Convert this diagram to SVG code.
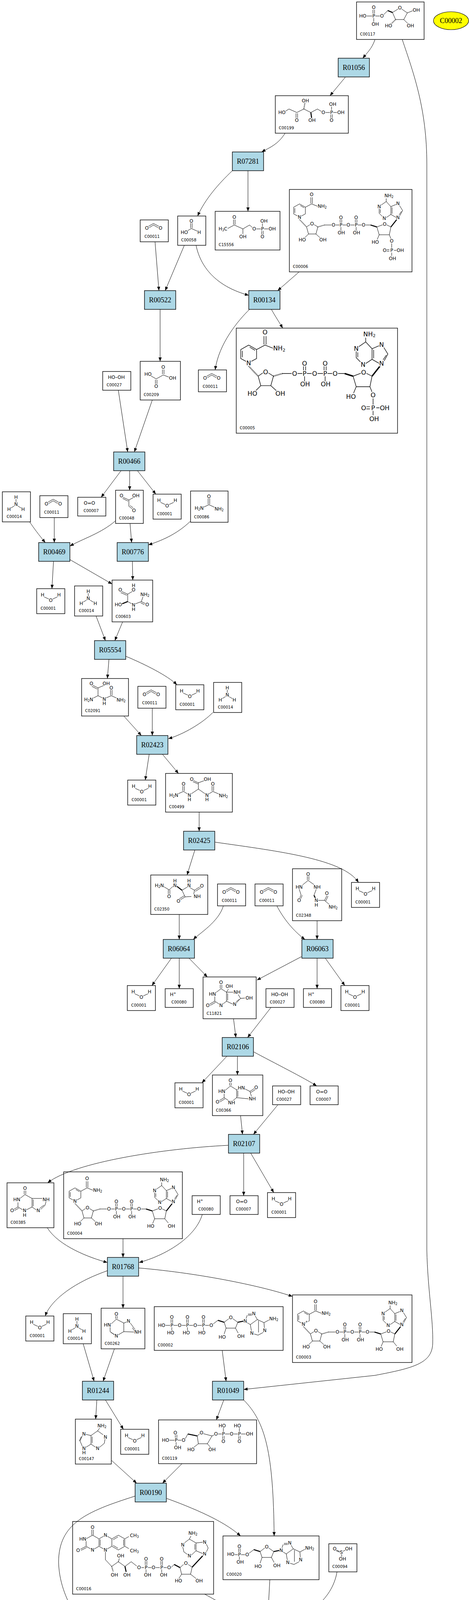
<svg xmlns="http://www.w3.org/2000/svg" width="1201" height="4797" viewBox="0 0 1201 4797">
<style>
.box{fill:#fff;stroke:#000;stroke-width:1.4}
.rx{fill:#add8e6;stroke:#000;stroke-width:1.4}
.rt{font-family:"Liberation Serif","Times New Roman",serif;font-size:18px;text-anchor:middle;dominant-baseline:central}
.lb{font-family:"DejaVu Sans",sans-serif;font-size:10px}
.a{font-family:"DejaVu Sans",sans-serif;font-size:12px;text-anchor:middle;dominant-baseline:central;paint-order:stroke;stroke:#fff;stroke-width:3px;stroke-linejoin:round}
.s{font-size:8px}
.b{fill:none;stroke:#000;stroke-width:1}
.bw{fill:none;stroke:#000;stroke-width:2.6}
.bh{fill:none;stroke:#000;stroke-width:2.6;stroke-dasharray:1 1.4}
.e{fill:none;stroke:#000;stroke-width:1;marker-end:url(#ah)}
</style>
<defs>
<marker id="ah" viewBox="0 0 10 8" refX="10" refY="4" markerWidth="10" markerHeight="8" markerUnits="userSpaceOnUse" orient="auto"><path d="M0,0L10,4L0,8z" fill="#000"/></marker>
<g id="m-w"><rect class="box" width="72" height="64"/><path class="b" d="M19,21L32,27M40,27L53,21"/><text class="a" x="15" y="16">H</text><text class="a" x="36" y="30">O</text><text class="a" x="57" y="16">H</text><text class="lb" x="10" y="54">C00001</text></g>
<g id="m-n"><rect class="box" width="72" height="77"/><path class="b" d="M35,19V27M31,36L21,42M39,36L49,42"/><text class="a" x="35" y="14">H</text><text class="a" x="35" y="32">N</text><text class="a" x="17" y="45">H</text><text class="a" x="53" y="45">H</text><text class="lb" x="11" y="67">C00014</text></g>
<g id="m-c"><rect class="box" width="72" height="56"/><path class="b" d="M20,17L34,9L49,17M23,20L34,13L46,20"/><text class="a" x="17" y="21">O</text><text class="a" x="52" y="21">O</text><text class="lb" x="11" y="46">C00011</text></g>
<g id="m-o2"><rect class="box" width="72" height="48"/><text class="a" x="30" y="15">O=O</text><text class="lb" x="15" y="38">C00007</text></g>
<g id="m-hp"><rect class="box" width="72" height="48"/><text class="a" x="20" y="15">H<tspan class="s" dy="-4">+</tspan></text><text class="lb" x="16" y="38">C00080</text></g>
<g id="m-hh"><rect class="box" width="72" height="48"/><text class="a" x="35" y="15">HO–OH</text><text class="lb" x="10" y="38">C00027</text></g>
<g id="nad">
<path class="b" d="M28,41L43,49.5L43,66.5L33,72M23,72L13,66.5L13,49.5L28,41M16,52V64M30,45L40,51M43,49.5L59,41M57,40V24M61,40V24M59,41L74,47M56,93L46,100L51,118L70,118L75,100L64,93M51,118L41,128M70,118L81,128M92,95H110M119,95H130M138,95H149M157,95H169M177,95H188M132,90V81M136,90V81M171,90V81M175,90V81M134,100V110M173,100V110M196,95H210M242,94L226,100L232,120L258,120L262,100L250,94M232,120L227,132M250,35L237,44M232,53V65L240,73M250,76L262,68V48L250,35M250,35V27M262,48L276,42M284,45L292,58L285,71M276,76L262,68M235,55V64M265,50V66M289,60L283,69"/>
<path class="bh" d="M28,81L46,100M75,100L92,95"/>
<path class="bw" d="M210,95L226,100M262,100L277,81"/>
<text class="a" x="59" y="17">O</text><text class="a" x="86" y="47">NH<tspan class="s" dy="3">2</tspan></text><text class="a" x="28" y="75">N</text><text class="a" x="60" y="92">O</text><text class="a" x="35" y="133">HO</text><text class="a" x="88" y="133">OH</text><text class="a" x="115" y="95">O</text><text class="a" x="134" y="95">P</text><text class="a" x="153" y="95">O</text><text class="a" x="173" y="95">P</text><text class="a" x="192" y="95">O</text><text class="a" x="134" y="76">O</text><text class="a" x="173" y="76">O</text><text class="a" x="135" y="115">OH</text><text class="a" x="174" y="115">OH</text><text class="a" x="246" y="93">O</text><text class="a" x="222" y="139">HO</text><text class="a" x="257" y="20">NH<tspan class="s" dy="3">2</tspan></text><text class="a" x="232" y="48">N</text><text class="a" x="245" y="78">N</text><text class="a" x="280" y="40">N</text><text class="a" x="280" y="76">N</text>
</g>
<g id="oh2"><path class="b" d="M258,120L267,131"/><text class="a" x="275" y="139">OH</text></g>
<g id="p2"><path class="b" d="M258,120L262,130M264,142V154M251,158H258M251,162H258M270,160H277M264,166V174"/><text class="a" x="264" y="136">O</text><text class="a" x="264" y="160">P</text><text class="a" x="246" y="160">O</text><text class="a" x="286" y="160">OH</text><text class="a" x="266" y="181">OH</text></g>
<g id="ado">
<path class="b" d="M109,48H122M124,43V32M128,43V32M126,53V61M130,48H142M150,45L163,35M192,30L179,40L184,55L208,55L214,40L200,30M184,55L179,70M208,55L215,68M235,31L238,22M240,19H250M240,22H250M258,23L264,33L246,46L238,41M264,33L281,41L282,55M279,66L266,73L256,70M249,63L246,46M281,41L294,34M267,36V66"/>
<path class="bw" d="M163,35L179,40M214,40L229,37"/>
<text class="a" x="126" y="27">O</text><text class="a" x="126" y="48">P</text><text class="a" x="146" y="48">O</text><text class="a" x="196" y="28">O</text><text class="a" x="174" y="78">HO</text><text class="a" x="222" y="76">OH</text><text class="a" x="233" y="37">N</text><text class="a" x="255" y="18">N</text><text class="a" x="306" y="31">NH<tspan class="s" dy="3">2</tspan></text><text class="a" x="250" y="68">N</text><text class="a" x="283" y="61">N</text>
</g>
<g id="atp"><use href="#ado"/>
<path class="b" d="M43,43V32M47,43V32M83,43V32M87,43V32M27,48H41M49,48H61M69,48H81M89,48H101M45,53V61M85,53V61"/>
<text class="a" x="45" y="27">O</text><text class="a" x="85" y="27">O</text><text class="a" x="19" y="48">HO</text><text class="a" x="45" y="48">P</text><text class="a" x="65" y="48">O</text><text class="a" x="85" y="48">P</text><text class="a" x="105" y="48">O</text><text class="a" x="42" y="67">HO</text><text class="a" x="82" y="67">HO</text><text class="a" x="122" y="67">HO</text>
</g>
</defs>

<g id="nodes">
<g id="C00117" transform="translate(913,5)">
<rect class="box" width="173" height="96"/>
<path class="b" d="M42,20V31M46,20V31M24,36H40M48,36H61M44,41V51M69,33L80,22M108,17L92,27L100,45L121,45L130,28L114,17M130,28L145,22M121,45L132,56"/>
<path class="bw" d="M80,22L92,27"/><path class="bh" d="M100,45L89,56"/>
<text class="a" x="44" y="14">O</text><text class="a" x="16" y="36">HO</text><text class="a" x="44" y="36">P</text><text class="a" x="65" y="36">O</text><text class="a" x="48" y="57">OH</text><text class="a" x="111" y="15">O</text><text class="a" x="153" y="21">OH</text><text class="a" x="82" y="61">HO</text><text class="a" x="138" y="61">OH</text>
<text class="lb" x="9" y="86">C00117</text>
</g>
<g id="C00002_cofactor"><ellipse cx="1155" cy="53" rx="45" ry="23" fill="#ffff00" stroke="#000" stroke-width="1.2"/><text class="rt" x="1155" y="53">C00002</text></g>
<g id="R01056"><rect class="rx" x="866" y="149" width="80" height="48"/><text class="rt" x="906" y="173">R01056</text></g>
<g id="C00199" transform="translate(705,245)">
<rect class="box" width="187" height="96"/>
<path class="b" d="M24,41L35,34L55,43L73,34L91,43L108,34L119,41M53,45V58M57,45V58M127,43H140M148,43H159M144,38V28M142,48V58M146,48V58"/>
<path class="bh" d="M73,34L76,18"/><path class="bw" d="M91,43L93,57"/>
<text class="a" x="77" y="13">OH</text><text class="a" x="147" y="22">OH</text><text class="a" x="17" y="43">HO</text><text class="a" x="123" y="43">O</text><text class="a" x="144" y="43">P</text><text class="a" x="168" y="43">OH</text><text class="a" x="55" y="63">O</text><text class="a" x="94" y="63">OH</text><text class="a" x="144" y="63">O</text>
<text class="lb" x="9" y="86">C00199</text>
</g>
<g id="R07281"><rect class="rx" x="595" y="389" width="80" height="48"/><text class="rt" x="635" y="413">R07281</text></g>
<g id="C00011_1"><use href="#m-c" x="359" y="563"/></g>
<g id="C00058" transform="translate(455,553)">
<rect class="box" width="72" height="75"/>
<path class="b" d="M33,18V31M37,18V31M35,32L23,39M35,32L51,39"/>
<text class="a" x="35" y="13">O</text><text class="a" x="17" y="42">HO</text><text class="a" x="55" y="42">H</text>
<text class="lb" x="9" y="65">C00058</text>
</g>
<g id="C15556" transform="translate(551,541)">
<rect class="box" width="166" height="99"/>
<path class="b" d="M32,44L49,35L71,45L88,35L96,42M47,34V21M51,34V21M71,45V58M104,45H117M125,45H136M121,40V31M119,50V59M123,50V59"/>
<text class="a" x="49" y="15">O</text><text class="a" x="125" y="25">OH</text><text class="a" x="20" y="45">H<tspan class="s" dy="3">3</tspan><tspan dy="-3">C</tspan></text><text class="a" x="100" y="45">O</text><text class="a" x="121" y="45">P</text><text class="a" x="146" y="45">OH</text><text class="a" x="71" y="65">OH</text><text class="a" x="121" y="65">O</text>
<text class="lb" x="9" y="89">C15556</text>
</g>
<g id="C00006">
<rect class="box" x="741" y="485" width="314" height="211"/>
<g transform="translate(739,481)"><use href="#nad"/><use href="#p2"/></g>
<text class="lb" x="750" y="686">C00006</text>
</g>
<g id="R00522"><rect class="rx" x="370" y="744" width="80" height="48"/><text class="rt" x="410" y="768">R00522</text></g>
<g id="R00134"><rect class="rx" x="637" y="744" width="80" height="48"/><text class="rt" x="677" y="768">R00134</text></g>
<g id="C00209" transform="translate(359,925)">
<rect class="box" width="103" height="99"/>
<path class="b" d="M27,37L41,45L59,35L75,41M57,33V21M61,33V21M39,47V58M43,47V58"/>
<text class="a" x="59" y="15">O</text><text class="a" x="20" y="33">HO</text><text class="a" x="83" y="43">OH</text><text class="a" x="41" y="64">O</text>
<text class="lb" x="9" y="89">C00209</text>
</g>
<g id="C00027_1"><use href="#m-hh" x="263" y="951"/></g>
<g id="C00011_2"><use href="#m-c" x="508" y="947"/></g>
<g id="C00005">
<rect class="box" x="605" y="840" width="413" height="269"/>
<g transform="translate(599,828) scale(1.35)"><use href="#nad"/><use href="#p2"/></g>
<text class="lb" x="614" y="1099">C00005</text>
</g>
<g id="R00466"><rect class="rx" x="291" y="1157" width="80" height="48"/><text class="rt" x="331" y="1181">R00466</text></g>
<g id="C00014_1"><use href="#m-n" x="6" y="1259"/></g>
<g id="C00011_3"><use href="#m-c" x="102" y="1269"/></g>
<g id="C00007_1"><use href="#m-o2" x="199" y="1273"/></g>
<g id="C00048" transform="translate(296,1255)">
<rect class="box" width="71" height="85"/>
<path class="b" d="M19,18L34,25M18,21L32,28M47,18L34,25M34,25V41M34,41L43,48M37,39L45,45"/>
<text class="a" x="15" y="14">O</text><text class="a" x="52" y="14">OH</text><text class="a" x="47" y="52">O</text>
<text class="lb" x="9" y="75">C00048</text>
</g>
<g id="C00001_1"><use href="#m-w" x="392" y="1265"/></g>
<g id="C00086" transform="translate(488,1257)">
<rect class="box" width="96" height="80"/>
<path class="b" d="M45,19V34M49,19V34M47,35L32,42M47,35L62,42"/>
<text class="a" x="47" y="14">O</text><text class="a" x="22" y="44">H<tspan class="s" dy="3">2</tspan><tspan dy="-3">N</tspan></text><text class="a" x="73" y="46">NH<tspan class="s" dy="3">2</tspan></text>
<text class="lb" x="9" y="70">C00086</text>
</g>
<g id="R00469"><rect class="rx" x="99" y="1389" width="80" height="48"/><text class="rt" x="139" y="1413">R00469</text></g>
<g id="R00776"><rect class="rx" x="300" y="1389" width="80" height="48"/><text class="rt" x="340" y="1413">R00776</text></g>
<g id="C00001_2"><use href="#m-w" x="94" y="1507"/></g>
<g id="C00014_2"><use href="#m-n" x="191" y="1500"/></g>
<g id="C00603" transform="translate(287,1485)">
<rect class="box" width="104" height="107"/>
<path class="b" d="M24,29L40,36M22,32L38,39M52,29L40,36M40,36V55M40,55L51,61M59,61L75,55L79,43M75,55L85,60M73,58L83,63"/>
<path class="bw" d="M40,55L25,61"/>
<text class="a" x="55" y="14">H</text><text class="a" x="21" y="25">O</text><text class="a" x="55" y="25">O</text><text class="a" x="84" y="37">NH<tspan class="s" dy="3">2</tspan></text><text class="a" x="16" y="63">HO</text><text class="a" x="55" y="64">N</text><text class="a" x="55" y="75">H</text><text class="a" x="90" y="63">O</text>
<text class="lb" x="9" y="97">C00603</text>
</g>
<g id="R05554"><rect class="rx" x="242" y="1640" width="80" height="48"/><text class="rt" x="282" y="1664">R05554</text></g>
<g id="C02091" transform="translate(209,1737)">
<rect class="box" width="120" height="96"/>
<path class="b" d="M28,17L42,24M26,20L40,27M59,17L42,24M42,24V44M42,44L28,51M42,44L54,50M62,50L76,44L92,51M74,43V29M78,43V29"/>
<text class="a" x="25" y="13">O</text><text class="a" x="63" y="13">OH</text><text class="a" x="76" y="24">O</text><text class="a" x="18" y="54">H<tspan class="s" dy="3">2</tspan><tspan dy="-3">N</tspan></text><text class="a" x="58" y="53">N</text><text class="a" x="58" y="64">H</text><text class="a" x="101" y="55">NH<tspan class="s" dy="3">2</tspan></text>
<text class="lb" x="9" y="86">C02091</text>
</g>
<g id="C00011_4"><use href="#m-c" x="353" y="1757"/></g>
<g id="C00001_3"><use href="#m-w" x="450" y="1753"/></g>
<g id="C00014_3"><use href="#m-n" x="547" y="1747"/></g>
<g id="R02423"><rect class="rx" x="350" y="1883" width="80" height="48"/><text class="rt" x="390" y="1907">R02423</text></g>
<g id="C00001_4"><use href="#m-w" x="327" y="1997"/></g>
<g id="C00499" transform="translate(424,1980)">
<rect class="box" width="171" height="99"/>
<path class="b" d="M71,18L84,24M70,21L83,27M100,18L84,24M84,24V40M84,40L66,52M84,40L101,52M57,53L46,46L30,53M44,45V32M48,45V32M110,53L121,46L137,53M119,45V32M123,45V32"/>
<text class="a" x="67" y="15">O</text><text class="a" x="107" y="15">OH</text><text class="a" x="46" y="27">O</text><text class="a" x="121" y="27">O</text><text class="a" x="21" y="56">H<tspan class="s" dy="3">2</tspan><tspan dy="-3">N</tspan></text><text class="a" x="61" y="56">N</text><text class="a" x="61" y="67">H</text><text class="a" x="106" y="56">N</text><text class="a" x="106" y="67">H</text><text class="a" x="148" y="57">NH<tspan class="s" dy="3">2</tspan></text>
<text class="lb" x="9" y="89">C00499</text>
</g>
<g id="R02425"><rect class="rx" x="470" y="2128" width="80" height="48"/><text class="rt" x="510" y="2152">R02425</text></g>
<g id="C02350" transform="translate(386,2240)">
<rect class="box" width="146" height="101"/>
<path class="b" d="M98,31L112,39L110,50M104,55L88,56L80,39L95,30M112,39L126,30M114,42L128,33M88,56L75,64M86,53L73,61M57,29L47,38L32,29M45,38V50M49,38V50M62,22V20M98,22V20"/>
<path class="bw" d="M80,39L67,29"/>
<text class="a" x="62" y="15">H</text><text class="a" x="98" y="15">H</text><text class="a" x="22" y="27">H<tspan class="s" dy="3">2</tspan><tspan dy="-3">N</tspan></text><text class="a" x="62" y="27">N</text><text class="a" x="98" y="27">N</text><text class="a" x="131" y="28">O</text><text class="a" x="47" y="55">O</text><text class="a" x="119" y="55">NH</text><text class="a" x="71" y="67">O</text>
<text class="lb" x="9" y="91">C02350</text>
</g>
<g id="C00011_5"><use href="#m-c" x="557" y="2263"/></g>
<g id="C00011_6"><use href="#m-c" x="653" y="2263"/></g>
<g id="C02348" transform="translate(749,2224)">
<rect class="box" width="126" height="133"/>
<path class="b" d="M38,18V29M42,18V29M40,30L25,42M40,30L57,42M17,52L22,67M22,67L18,76M25,68L21,77M61,52L55,68M66,81H82M82,81L88,69M85,83L91,70M82,81L96,93"/>
<path class="bw" d="M55,68L59,76"/>
<text class="a" x="40" y="14">O</text><text class="a" x="17" y="47">HN</text><text class="a" x="63" y="47">NH</text><text class="a" x="88" y="63">O</text><text class="a" x="17" y="81">O</text><text class="a" x="61" y="81">N</text><text class="a" x="61" y="93">H</text><text class="a" x="104" y="98">NH<tspan class="s" dy="3">2</tspan></text>
<text class="lb" x="9" y="123">C02348</text>
</g>
<g id="C00001_5"><use href="#m-w" x="900" y="2259"/></g>
<g id="R06064"><rect class="rx" x="418" y="2405" width="80" height="48"/><text class="rt" x="458" y="2429">R06064</text></g>
<g id="R06063"><rect class="rx" x="773" y="2405" width="80" height="48"/><text class="rt" x="813" y="2429">R06063</text></g>
<g id="C00001_6"><use href="#m-w" x="326" y="2523"/></g>
<g id="C00080_1"><use href="#m-hp" x="423" y="2531"/></g>
<g id="C11821" transform="translate(520,2501)">
<rect class="box" width="136" height="107"/>
<path class="b" d="M46,30L60,39L60,62L50,70M42,70L30,62L30,50M33,40L46,30M44,29V20M48,29V20M30,62L16,70M32,65L18,73M60,39L65,31M60,39L77,39M90,45L96,55L85,67M93,57L83,65M77,70L60,62M96,55L107,54M63,42V60"/>
<text class="a" x="46" y="14">O</text><text class="a" x="67" y="24">OH</text><text class="a" x="87" y="39">NH</text><text class="a" x="24" y="44">HN</text><text class="a" x="118" y="54">OH</text><text class="a" x="12" y="73">O</text><text class="a" x="46" y="73">N</text><text class="a" x="81" y="70">N</text>
<text class="lb" x="9" y="97">C11821</text>
</g>
<g id="C00027_2"><use href="#m-hh" x="681" y="2531"/></g>
<g id="C00080_2"><use href="#m-hp" x="777" y="2531"/></g>
<g id="C00001_7"><use href="#m-w" x="873" y="2523"/></g>
<g id="R02106"><rect class="rx" x="569" y="2656" width="80" height="48"/><text class="rt" x="609" y="2680">R02106</text></g>
<g id="C00001_8"><use href="#m-w" x="448" y="2772"/></g>
<g id="C00366" transform="translate(544,2752)">
<rect class="box" width="129" height="104"/>
<path class="b" d="M46,28L62,38L62,58L52,66M42,66L30,58L30,48M32,40L46,28M44,27V20M48,27V20M30,58L17,66M32,61L19,69M62,38L70,34M80,34L96,42L100,55M92,61L62,58M96,42L108,34M98,45L110,37M65,40V56"/>
<text class="a" x="46" y="14">O</text><text class="a" x="24" y="42">HN</text><text class="a" x="74" y="33">HN</text><text class="a" x="112" y="32">O</text><text class="a" x="102" y="61">NH</text><text class="a" x="13" y="69">O</text><text class="a" x="49" y="71">NH</text>
<text class="lb" x="9" y="94">C00366</text>
</g>
<g id="C00027_3"><use href="#m-hh" x="698" y="2780"/></g>
<g id="C00007_2"><use href="#m-o2" x="794" y="2780"/></g>
<g id="R02107"><rect class="rx" x="585" y="2904" width="80" height="48"/><text class="rt" x="625" y="2928">R02107</text></g>
<g id="C00385" transform="translate(18,3028)">
<rect class="box" width="120" height="115"/>
<path class="b" d="M46,30L64,40L64,62L50,69M40,69L28,62L28,50M32,41L46,30M44,29V20M48,29V20M28,62L17,68M30,65L19,71M64,40L90,40M100,48L97,58L86,68M95,57L84,65M76,70L64,62M67,43V60"/>
<text class="a" x="46" y="14">O</text><text class="a" x="25" y="43">HN</text><text class="a" x="100" y="43">NH</text><text class="a" x="13" y="71">O</text><text class="a" x="45" y="71">N</text><text class="a" x="45" y="83">H</text><text class="a" x="80" y="71">N</text>
<text class="lb" x="9" y="105">C00385</text>
</g>
<g id="C00004">
<rect class="box" x="163" y="3000" width="304" height="171"/>
<g transform="translate(164,3000)"><use href="#nad"/><use href="#oh2"/></g>
<text class="lb" x="172" y="3161">C00004</text>
</g>
<g id="C00080_3"><use href="#m-hp" x="492" y="3061"/></g>
<g id="C00007_3"><use href="#m-o2" x="589" y="3061"/></g>
<g id="C00001_9"><use href="#m-w" x="685" y="3053"/></g>
<g id="R01768"><rect class="rx" x="275" y="3219" width="80" height="48"/><text class="rt" x="315" y="3243">R01768</text></g>
<g id="C00001_10"><use href="#m-w" x="66" y="3369"/></g>
<g id="C00014_4"><use href="#m-n" x="162" y="3363"/></g>
<g id="C00262" transform="translate(259,3349)">
<rect class="box" width="112" height="104"/>
<path class="b" d="M39,28L58,38L58,60L44,68M34,68L23,60L23,48M26,40L39,28M37,27V20M41,27V20M58,38L66,35M74,37L82,48L88,56M80,50L85,58M58,60L84,61M25,62L35,68"/>
<text class="a" x="39" y="15">O</text><text class="a" x="16" y="43">HN</text><text class="a" x="70" y="33">N</text><text class="a" x="94" y="61">NH</text><text class="a" x="39" y="71">N</text>
<text class="lb" x="9" y="94">C00262</text>
</g>
<g id="C00002_1">
<rect class="box" x="395" y="3345" width="330" height="112"/>
<g transform="translate(395,3345)"><use href="#atp"/></g>
<text class="lb" x="404" y="3447">C00002</text>
</g>
<g id="C00003">
<rect class="box" x="749" y="3315" width="306" height="173"/>
<g transform="translate(749,3315)"><use href="#nad"/><use href="#oh2"/><text class="a s" x="36" y="68">+</text></g>
<text class="lb" x="758" y="3478">C00003</text>
</g>
<g id="R01244"><rect class="rx" x="211" y="3536" width="80" height="48"/><text class="rt" x="251" y="3560">R01244</text></g>
<g id="R01049"><rect class="rx" x="544" y="3536" width="80" height="48"/><text class="rt" x="584" y="3560">R01049</text></g>
<g id="C00147" transform="translate(193,3633)">
<rect class="box" width="92" height="115"/>
<path class="b" d="M57,30L71,40M76,51L74,62L62,72M52,72L40,64L40,42L57,30M57,30L62,23M40,42L27,39M18,42L12,56L18,70M27,72L40,64M15,45L10,56M43,45V61"/>
<text class="a" x="68" y="17">NH<tspan class="s" dy="3">2</tspan></text><text class="a" x="22" y="38">N</text><text class="a" x="77" y="46">N</text><text class="a" x="22" y="75">N</text><text class="a" x="22" y="86">H</text><text class="a" x="57" y="75">N</text>
<text class="lb" x="9" y="105">C00147</text>
</g>
<g id="C00001_11"><use href="#m-w" x="309" y="3659"/></g>
<g id="C00119" transform="translate(406,3635)">
<rect class="box" width="251" height="112"/>
<path class="b" d="M43,47V38M47,47V38M26,52H41M49,52H60M45,57V66M68,49L75,36M106,35L99,41L102,61L125,61L137,41L114,35M102,61L89,71M125,61L133,70M137,41L143,38M151,36H162M170,36H183M191,36H203M211,36H223M166,31V20M207,31V20M164,41V50M168,41V50M205,41V50M209,41V50"/>
<path class="bw" d="M75,36L99,41"/>
<text class="a" x="43" y="33">O</text><text class="a" x="18" y="52">HO</text><text class="a" x="45" y="52">P</text><text class="a" x="64" y="52">O</text><text class="a" x="49" y="71">OH</text><text class="a" x="110" y="33">O</text><text class="a" x="83" y="76">HO</text><text class="a" x="137" y="76">OH</text><text class="a" x="147" y="36">O</text><text class="a" x="166" y="36">P</text><text class="a" x="187" y="36">O</text><text class="a" x="207" y="36">P</text><text class="a" x="233" y="36">OH</text><text class="a" x="163" y="15">HO</text><text class="a" x="202" y="15">HO</text><text class="a" x="166" y="55">O</text><text class="a" x="207" y="55">O</text>
<text class="lb" x="9" y="102">C00119</text>
</g>
<g id="R00190"><rect class="rx" x="346" y="3797" width="80" height="48"/><text class="rt" x="386" y="3821">R00190</text></g>
<g id="C00016" transform="translate(186,3895)">
<rect class="box" width="361" height="186"/>
<path class="b" d="M51,35L67.5,44.5L67.5,63.5L51,73L34.5,63.5L34.5,44.5ZM67.5,44.5L84,35L100.5,44.5L100.5,63.5L84,73L67.5,63.5M100.5,44.5L117,35L133.5,44.5L133.5,63.5L117,73L100.5,63.5M70.5,46V62M103.5,47L116,39.5M103.5,61L116,68.5M130.5,46V62M49,35V21M53,35V21M34.5,63.5L20,71M36,66.5L21.5,74M133.5,44.5L144,38.5M133.5,63.5L144,69.5M84,73V98L100,115L117,103L134,115L150,103L164,114M176,118H183M193,118H202M212,118H223M233,118H242M186,113V101M190,113V101M226,113V101M230,113V101M188,123V131M228,123V131M252,118L260,110M284,110L275,118M296,110L306,117L302,135L279,135L275,118M279,135L272,146M302,135L316,146M299,45L303,37M299,45L286,55M282,65L285,78L295,85M304,86L316,75L316,55L299,45M316,55L333,53M342,57L347,68L342,79M333,82L316,75M313,58V72"/>
<path class="bw" d="M260,110L275,118M306,117L333,88M134,115L137,129"/>
<path class="bh" d="M117,103L120,94M100,115L104,129"/>
<text class="a" x="51" y="15">O</text><text class="a" x="26" y="45">HN</text><text class="a" x="14" y="74">O</text><text class="a" x="51" y="73">N</text><text class="a" x="84" y="35">N</text><text class="a" x="84" y="73">N</text><text class="a" x="158" y="36">CH<tspan class="s" dy="3">3</tspan></text><text class="a" x="158" y="75">CH<tspan class="s" dy="3">3</tspan></text><text class="a" x="123" y="88">OH</text><text class="a" x="107" y="137">OH</text><text class="a" x="139" y="137">OH</text><text class="a" x="170" y="118">O</text><text class="a" x="188" y="118">P</text><text class="a" x="207" y="118">O</text><text class="a" x="228" y="118">P</text><text class="a" x="247" y="118">O</text><text class="a" x="188" y="96">O</text><text class="a" x="228" y="96">O</text><text class="a" x="192" y="137">OH</text><text class="a" x="233" y="137">OH</text><text class="a" x="290" y="107">O</text><text class="a" x="271" y="152">HO</text><text class="a" x="324" y="152">OH</text><text class="a" x="308" y="30">NH<tspan class="s" dy="3">2</tspan></text><text class="a" x="282" y="60">N</text><text class="a" x="338" y="53">N</text><text class="a" x="299" y="88">N</text><text class="a" x="338" y="83">N</text>
<text class="lb" x="9" y="176">C00016</text>
</g>
<g id="C00020">
<rect class="box" x="571" y="3932" width="246" height="112"/>
<g transform="translate(487,3932)"><use href="#ado"/><text class="a" x="104" y="47">HO</text><text class="a" x="128" y="67">OH</text></g>
<text class="lb" x="580" y="4034">C00020</text>
</g>
<g id="C00094" transform="translate(842,3952)">
<rect class="box" width="72" height="72"/>
<path class="b" d="M18,16L29,20M19,18L29,22M35,20L45,15M33,26V34"/>
<text class="a" x="15" y="13">O</text><text class="a" x="51" y="13">OH</text><text class="a" x="32" y="22">S</text><text class="a" x="35" y="39">OH</text>
<text class="lb" x="9" y="62">C00094</text>
</g>
<g id="C00013" transform="translate(162,4132)">
<rect class="box" width="124" height="91"/>
<path class="b" d="M40,19V33M44,19V33M77,19V33M81,19V33M28,38H38M46,38H57M65,38H75M83,38H94M42,42V52M79,42V52"/>
<text class="a" x="42" y="14">O</text><text class="a" x="79" y="14">O</text><text class="a" x="20" y="38">HO</text><text class="a" x="42" y="38">P</text><text class="a" x="61" y="38">O</text><text class="a" x="79" y="38">P</text><text class="a" x="102" y="38">OH</text><text class="a" x="47" y="57">OH</text><text class="a" x="84" y="57">OH</text>
<text class="lb" x="9" y="81">C00013</text>
</g>
<g id="R08553"><rect class="rx" x="644" y="4153" width="80" height="48"/><text class="rt" x="684" y="4177">R08553</text></g>
<g id="C00224" transform="translate(319,4320)">
<rect class="box" width="187" height="168"/>
<path class="b" d="M19,74H29M37,74H49M57,74H68M76,74H89M35,69L37,56M72,69L76,56M31,79V87M35,79V87M70,79V87M74,79V87M95,79L101,93M116,98L128,94M136,94L145,100L142,118L122,118L116,98M122,118L111,128M142,118L152,128M128,28L133,21M128,28L115,41M111,50L111,62L124,70M133,71L145,62L145,40L128,28M145,40L159,40M168,44L172,54L168,64M160,68L145,62M114,52V62M148,43V59"/>
<path class="bw" d="M101,95L116,98M145,100L162,73"/>
<text class="a" x="135" y="16">NH<tspan class="s" dy="3">2</tspan></text><text class="a" x="111" y="45">N</text><text class="a" x="164" y="40">N</text><text class="a" x="128" y="73">N</text><text class="a" x="164" y="68">N</text><text class="a" x="38" y="51">OH</text><text class="a" x="77" y="51">OH</text><text class="a" x="14" y="74">O</text><text class="a" x="33" y="74">S</text><text class="a" x="53" y="74">O</text><text class="a" x="72" y="74">P</text><text class="a" x="93" y="74">O</text><text class="a" x="33" y="92">O</text><text class="a" x="72" y="92">O</text><text class="a" x="132" y="93">O</text><text class="a" x="105" y="133">HO</text><text class="a" x="157" y="133">OH</text>
<text class="lb" x="9" y="158">C00224</text>
</g>
<g id="C01352" transform="translate(540,4273)">
<rect class="box" width="288" height="262"/>
<path class="b" d="M47,33L63.5,42.5L63.5,61.5L47,71L30.5,61.5L30.5,42.5ZM63.5,42.5L80,33L96.5,42.5L96.5,61.5L80,71L63.5,61.5M96.5,42.5L113,33L129.5,42.5L129.5,61.5L113,71L96.5,61.5M66.5,45V59M99.5,45L111,38.5M99.5,59L111,65.5M126.5,45V59M45,33V20M49,33V20M30.5,61.5L18,69M32,64.5L19.5,72M129.5,42.5L140,37M129.5,61.5L140,68M80,71L86,88V167L97,176M86,109H98M86,128H98M86,148H98M107,177H115M125,177H134M144,177H154M164,177H174M118,172V164M122,172V164M157,172V164M161,172V164M119,182L117,190M158,182L155,190M184,177H199M219,184L227,188M237,188L247,184L244,212L222,212L219,184M222,212L212,221M244,212L254,221M233,120L236,109M233,120L219,127M216,135V147L226,155M235,156L247,150V130L233,120M247,130L260,124M268,128L272,140L268,151M260,156L247,150M219,137V146M244,133V147"/>
<path class="bw" d="M199,177L219,184M247,184L262,161"/>
<text class="a" x="47" y="14">O</text><text class="a" x="80" y="21">H</text><text class="a" x="80" y="32">N</text><text class="a" x="154" y="35">CH<tspan class="s" dy="3">3</tspan></text><text class="a" x="24" y="43">HN</text><text class="a" x="13" y="72">O</text><text class="a" x="47" y="72">N</text><text class="a" x="47" y="84">H</text><text class="a" x="80" y="72">N</text><text class="a" x="154" y="74">CH<tspan class="s" dy="3">3</tspan></text><text class="a" x="107" y="109">OH</text><text class="a" x="107" y="128">OH</text><text class="a" x="107" y="148">OH</text><text class="a" x="102" y="177">O</text><text class="a" x="120" y="177">P</text><text class="a" x="139" y="177">O</text><text class="a" x="159" y="177">P</text><text class="a" x="179" y="177">O</text><text class="a" x="120" y="159">O</text><text class="a" x="159" y="159">O</text><text class="a" x="115" y="196">HO</text><text class="a" x="153" y="196">HO</text><text class="a" x="232" y="189">O</text><text class="a" x="206" y="226">HO</text><text class="a" x="260" y="226">OH</text><text class="a" x="240" y="103">NH<tspan class="s" dy="3">2</tspan></text><text class="a" x="214" y="129">N</text><text class="a" x="230" y="160">N</text><text class="a" x="265" y="123">N</text><text class="a" x="265" y="156">N</text>
<text class="lb" x="9" y="252">C01352</text>
</g>
<g id="R00529"><rect class="rx" x="297" y="4584" width="80" height="48"/><text class="rt" x="337" y="4608">R00529</text></g>
<g id="C00002_2">
<rect class="box" x="56" y="4680" width="329" height="112"/>
<g transform="translate(56,4680)"><use href="#atp"/></g>
<text class="lb" x="65" y="4782">C00002</text>
</g>
<g id="C00059" transform="translate(410,4692)">
<rect class="box" width="88" height="88"/>
<path class="b" d="M41,19V29M45,19V29M26,34H39M47,34H60M41,39V49M45,39V49"/>
<text class="a" x="43" y="14">O</text><text class="a" x="18" y="34">HO</text><text class="a" x="43" y="34">S</text><text class="a" x="68" y="34">OH</text><text class="a" x="43" y="54">O</text>
<text class="lb" x="9" y="78">C00059</text>
</g>
</g>

<g id="connectors">
<path class="e" d="M960,102C952,125 940,135 929,149"/>
<path class="e" d="M1030,101C1060,190 1093,280 1093,420L1093,3200C1095,3300 1110,3380 1108,3440C1106,3490 1060,3502 960,3521L624,3557"/>
<path class="e" d="M884,198L845,245"/>
<path class="e" d="M730,341C712,370 690,378 670,389"/>
<path class="e" d="M595,437C560,470 525,510 506,553"/>
<path class="e" d="M635,437L635,541"/>
<path class="e" d="M397,619L407,744"/>
<path class="e" d="M472,628L423,744"/>
<path class="e" d="M502,628C515,690 560,735 637,756"/>
<path class="e" d="M766,696L711,744"/>
<path class="e" d="M410,792L410,925"/>
<path class="e" d="M639,792C610,820 560,880 551,947"/>
<path class="e" d="M695,792C705,810 715,825 724,840"/>
<path class="e" d="M303,999L327,1157"/>
<path class="e" d="M390,1024L344,1157"/>
<path class="e" d="M310,1205L259,1273"/>
<path class="e" d="M332,1205L332,1255"/>
<path class="e" d="M352,1205L399,1265"/>
<path class="e" d="M76,1336C85,1350 100,1370 116,1389"/>
<path class="e" d="M139,1325L139,1389"/>
<path class="e" d="M296,1333C260,1365 210,1380 179,1398"/>
<path class="e" d="M333,1340L337,1389"/>
<path class="e" d="M487,1335C450,1370 410,1385 380,1395"/>
<path class="e" d="M137,1437L133,1507"/>
<path class="e" d="M178,1432L287,1495"/>
<path class="e" d="M339,1437L340,1485"/>
<path class="e" d="M246,1577L270,1640"/>
<path class="e" d="M314,1592L294,1640"/>
<path class="e" d="M279,1688L275,1737"/>
<path class="e" d="M322,1680C370,1700 430,1730 453,1753"/>
<path class="e" d="M317,1833L362,1883"/>
<path class="e" d="M390,1813L390,1883"/>
<path class="e" d="M545,1824C520,1850 470,1880 431,1891"/>
<path class="e" d="M382,1931L372,1997"/>
<path class="e" d="M416,1931L457,1980"/>
<path class="e" d="M510,2079L510,2128"/>
<path class="e" d="M499,2176L479,2240"/>
<path class="e" d="M551,2156C720,2180 880,2200 918,2259"/>
<path class="e" d="M459,2341L459,2405"/>
<path class="e" d="M572,2319C560,2360 510,2390 495,2405"/>
<path class="e" d="M709,2319C730,2360 760,2390 781,2405"/>
<path class="e" d="M812,2357L812,2405"/>
<path class="e" d="M439,2453L389,2523"/>
<path class="e" d="M459,2453L459,2531"/>
<path class="e" d="M484,2453L531,2501"/>
<path class="e" d="M772,2449L658,2509"/>
<path class="e" d="M812,2453L812,2531"/>
<path class="e" d="M833,2453L883,2523"/>
<path class="e" d="M598,2608L604,2656"/>
<path class="e" d="M694,2579L634,2656"/>
<path class="e" d="M581,2704L517,2772"/>
<path class="e" d="M608,2704L608,2752"/>
<path class="e" d="M650,2693C700,2720 780,2760 811,2780"/>
<path class="e" d="M616,2856L621,2904"/>
<path class="e" d="M711,2829L649,2904"/>
<path class="e" d="M584,2932C420,2940 190,2975 122,3028"/>
<path class="e" d="M624,2952L624,3061"/>
<path class="e" d="M642,2952L701,3053"/>
<path class="e" d="M121,3143C150,3190 230,3220 275,3232"/>
<path class="e" d="M315,3171L315,3219"/>
<path class="e" d="M518,3109C500,3170 420,3215 356,3232"/>
<path class="e" d="M275,3253C170,3290 125,3340 116,3369"/>
<path class="e" d="M315,3267L315,3349"/>
<path class="e" d="M355,3246C520,3260 680,3295 749,3319"/>
<path class="e" d="M213,3440L241,3536"/>
<path class="e" d="M293,3453L264,3536"/>
<path class="e" d="M569,3457L579,3536"/>
<path class="e" d="M248,3584L245,3633"/>
<path class="e" d="M270,3584L316,3659"/>
<path class="e" d="M573,3584L554,3635"/>
<path class="e" d="M624,3584C680,3640 700,3720 702,3932"/>
<path class="e" d="M286,3739L350,3797"/>
<path class="e" d="M466,3747L416,3797"/>
<path class="e" d="M346,3830C220,3870 150,3900 150,4000C152,4060 175,4100 190,4132"/>
<path class="e" d="M427,3836C520,3870 580,3900 616,3932"/>
<path class="e" d="M524,4081C560,4100 610,4130 644,4153"/>
<path class="e" d="M691,4044L685,4153"/>
<path class="e" d="M863,4024C850,4100 780,4140 724,4159"/>
<path class="e" d="M644,4198C560,4240 500,4290 480,4320"/>
<path class="e" d="M684,4201L684,4273"/>
<path class="e" d="M233,4223C250,4330 270,4450 322,4584"/>
<path class="e" d="M380,4488L347,4584"/>
<path class="e" d="M314,4632L273,4680"/>
<path class="e" d="M359,4632L406,4692"/>
</g>
</svg>
